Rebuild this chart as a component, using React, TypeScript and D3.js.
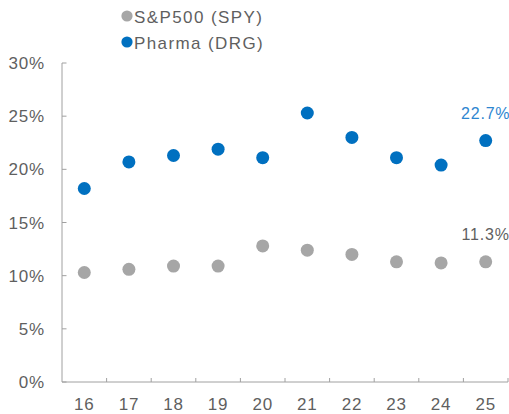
import React from "react";
import * as d3 from "d3";

const categories = ["16", "17", "18", "19", "20", "21", "22", "23", "24", "25"];
const spyValues = [10.3, 10.6, 10.9, 10.9, 12.8, 12.4, 12.0, 11.3, 11.2, 11.3];
const drgValues = [18.2, 20.7, 21.3, 21.9, 21.1, 25.3, 23.0, 21.1, 20.4, 22.7];
const yTicks = [0, 5, 10, 15, 20, 25, 30];
const seriesNames = ["S&P500 (SPY)", "Pharma (DRG)"];
const lastLabels = ["11.3%", "22.7%"];

const W = 509;
const H = 414;
const FONT = "'Liberation Sans', Arial, sans-serif";
const TEXT = "#5f5f5f";
const AXIS = "#A0A0A0";
const BLUE = "#0070C0";
const GRAY = "#A6A6A6";

export default function App() {
  const x = d3.scaleBand<string>().domain(categories).range([62, 508]);
  const y = d3.scaleLinear().domain([0, 30]).range([382, 63]);
  const cx = (c: string) => (x(c) as number) + x.bandwidth() / 2;
  const series = [
    { name: seriesNames[0], values: spyValues, color: GRAY, label: lastLabels[0], labelColor: TEXT },
    { name: seriesNames[1], values: drgValues, color: BLUE, label: lastLabels[1], labelColor: "#2E86D0" },
  ];
  const lastCat = categories[categories.length - 1];
  return (
    <svg width={W} height={H} style={{ position: "absolute", left: 0, top: 0, fontFamily: FONT }}>
      <rect width={W} height={H} fill="#fff" />
      {/* legend */}
      {series.map((s, i) => (
        <g key={s.name}>
          <circle cx={127} cy={16 + i * 26} r={5.6} fill={s.color} />
          <text x={134} y={23 + i * 26} fontSize={17} fill={TEXT} letterSpacing={1.4}>
            {s.name}
          </text>
        </g>
      ))}
      {/* y axis */}
      <line x1={62} x2={62} y1={y(30)} y2={y(0)} stroke={AXIS} strokeWidth={1} />
      {yTicks.map((t) => (
        <g key={t}>
          <line x1={62} x2={66.5} y1={y(t)} y2={y(t)} stroke={AXIS} />
          <text x={45} y={y(t) + 6} textAnchor="end" fontSize={17} fill={TEXT} letterSpacing={0.8}>
            {t}%
          </text>
        </g>
      ))}
      {/* x axis */}
      <line x1={62} x2={508} y1={y(0)} y2={y(0)} stroke={AXIS} strokeWidth={1} />
      {categories.map((c) => (
        <g key={c}>
          <line x1={(x(c) as number) + x.bandwidth()} x2={(x(c) as number) + x.bandwidth()} y1={y(0)} y2={y(0) - 4} stroke={AXIS} />
          <text x={cx(c)} y={410} textAnchor="middle" fontSize={17} fill={TEXT} letterSpacing={0.8}>
            {c}
          </text>
        </g>
      ))}
      {/* points */}
      {series.map((s) => (
        <g key={s.name}>
          {s.values.map((v, i) => (
            <circle key={i} cx={cx(categories[i])} cy={y(v)} r={6.5} fill={s.color} />
          ))}
          <text
            x={cx(lastCat)}
            y={y(s.values[s.values.length - 1]) - 22}
            textAnchor="middle"
            fontSize={16}
            fill={s.labelColor}
            letterSpacing={0.8}
          >
            {s.label}
          </text>
        </g>
      ))}
    </svg>
  );
}
